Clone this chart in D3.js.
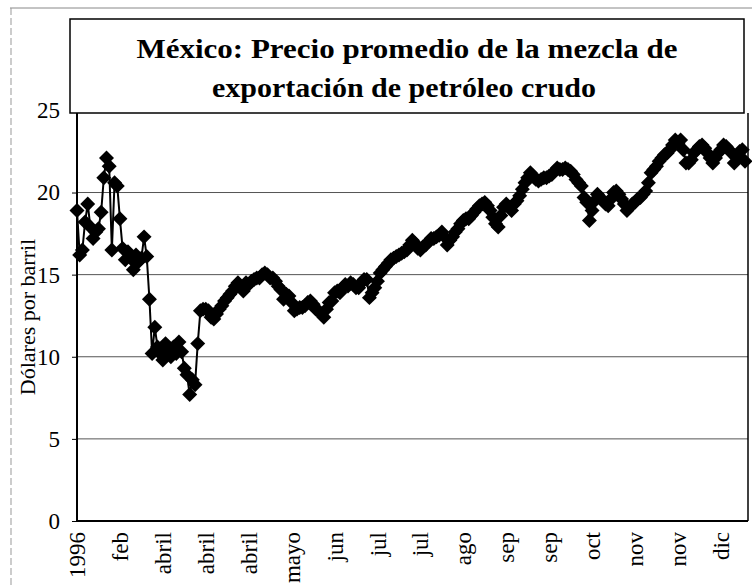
<!DOCTYPE html>
<html lang="es">
<head>
<meta charset="utf-8">
<script src="https://d3js.org/d3.v7.min.js"></script>
<style>
body { margin: 0; background: #fff; }
svg { display: block; font-family: "Liberation Serif", "Times New Roman", serif; }
.grid line { stroke: #555; stroke-width: 1; }
.serie { fill: none; stroke: #000; stroke-width: 2; stroke-linejoin: round; }
</style>
</head>
<body>
<svg width="752" height="588"></svg>
<script>
// precio diario (dolares por barril), 1996
var precios = [
  18.9, 16.2, 16.5, 18.2, 19.3, 17.9, 17.2, 17.6, 17.8, 18.8,
  20.9, 22.1, 21.6, 16.5, 20.6, 20.4, 18.4, 16.6, 15.9, 16.4,
  16.0, 15.3, 16.2, 15.8, 16.0, 17.3, 16.1, 13.5, 10.2, 11.8,
  10.6, 10.2, 9.8, 10.8, 10.4, 10.0, 10.6, 10.2, 10.9, 10.3,
  9.3, 8.9, 7.7, 8.6, 8.3, 10.8, 12.8, 12.9, 12.9, 12.8,
  12.4, 12.3, 12.6, 12.9, 13.1, 13.4, 13.6, 13.8, 14.0, 14.3,
  14.5, 14.3, 14.0, 14.5, 14.4, 14.6, 14.7, 14.8, 14.8, 15.0,
  15.1, 15.0, 14.8, 14.8, 14.6, 14.3, 14.1, 13.5, 13.8, 13.7,
  13.3, 12.8, 12.9, 13.0, 13.0, 13.1, 13.3, 13.4, 13.2, 12.9,
  12.8, 12.6, 12.4, 12.9, 13.3, 13.4, 13.9, 14.0, 13.9, 14.2,
  14.4, 14.3, 14.5, 14.4, 14.2, 14.2, 14.5, 14.7, 14.7, 13.6,
  13.9, 14.2, 14.6, 15.1, 15.3, 15.5, 15.7, 15.9, 16.0, 16.1,
  16.2, 16.3, 16.4, 16.5, 16.8, 17.1, 16.9, 16.6, 16.5, 16.7,
  16.8, 17.0, 17.2, 17.2, 17.3, 17.4, 17.6, 17.3, 16.8, 17.1,
  17.3, 17.6, 17.8, 18.1, 18.3, 18.4, 18.4, 18.6, 18.8, 19.0,
  19.2, 19.3, 19.4, 19.2, 18.9, 18.5, 18.1, 17.9, 18.6, 19.1,
  19.3, 19.1, 18.9, 19.3, 19.5, 19.8, 20.2, 20.6, 20.9, 21.2,
  21.0, 20.8, 20.7, 20.8, 20.9, 20.9, 21.0, 21.1, 21.3, 21.5,
  21.4, 21.4, 21.5, 21.4, 21.3, 21.1, 20.8, 20.6, 20.4, 19.7,
  19.4, 18.3, 18.9, 19.5, 19.9, 19.7, 19.5, 19.3, 19.2, 19.6,
  20.0, 20.1, 19.9, 19.6, 19.3, 18.9, 19.1, 19.3, 19.4, 19.6,
  19.7, 19.9, 20.1, 20.6, 21.2, 21.4, 21.6, 21.9, 22.1, 22.3,
  22.4, 22.6, 22.9, 23.2, 23.0, 23.2, 22.6, 21.8, 21.8, 22.0,
  22.4, 22.6, 22.8, 22.9, 22.7, 22.4, 22.1, 21.8, 22.1, 22.4,
  22.6, 22.9, 22.8, 22.6, 22.4, 21.8, 22.1, 22.5, 22.6, 21.9
];
var etiquetas = ["1996", "feb", "abril", "abril", "abril", "mayo", "jun", "jul",
                 "jul", "ago", "sep", "sep", "oct", "nov", "nov", "dic"];
var cadaN = 16; // una etiqueta cada 16 dias
var ticksY = [0, 5, 10, 15, 20, 25];
var titulo = ["México: Precio promedio de la mezcla de", "exportación de petróleo crudo"];
var tituloY = "Dólares por barril";

// ojo: "top" choca con window.top
var svg = d3.select("svg"),
    izq = 77, der = 748, arriba = 113, abajo = 521;

var x = d3.scaleLinear().domain([0, precios.length - 1]).range([77, 745]);
var y = d3.scaleLinear().domain([0, 25]).range([abajo, 110.4]);

// marco exterior de la pagina (escaneo)
svg.append("line").attr("x1", 10).attr("x2", 752).attr("y1", 8).attr("y2", 8)
    .attr("stroke", "#888").attr("stroke-width", 1);
svg.append("line").attr("x1", 11).attr("x2", 11).attr("y1", 8).attr("y2", 588)
    .attr("stroke", "#999").attr("stroke-width", 1).attr("stroke-dasharray", "7,3");

// lineas de division
svg.append("g").attr("class", "grid")
  .selectAll("line")
  .data(ticksY.filter(function(d) { return d > 0 && d < 25; }))
  .join("line")
    .attr("x1", izq).attr("x2", der)
    .attr("y1", function(d) { return y(d); })
    .attr("y2", function(d) { return y(d); });

// eje y
var ejeY = svg.append("g")
    .attr("transform", "translate(" + izq + ",0)")
    .call(d3.axisLeft(y).tickValues(ticksY).tickSize(5).tickPadding(12));
ejeY.select(".domain").remove();
ejeY.selectAll("text")
    .attr("font-family", "Liberation Serif, serif")
    .attr("font-size", 23)
    .attr("fill", "#000");
ejeY.selectAll("line").attr("stroke", "#000");

// eje x
var ejeX = svg.append("g")
    .attr("transform", "translate(0," + abajo + ")")
    .call(d3.axisBottom(x)
      .tickValues(d3.range(0, precios.length, cadaN))
      .tickFormat(function(d, i) { return etiquetas[i]; })
      .tickSize(0));
ejeX.select(".domain").remove();
ejeX.selectAll("text")
    .attr("font-family", "Liberation Serif, serif")
    .attr("font-size", 23)
    .attr("fill", "#000")
    .attr("transform", "rotate(-90)")
    .attr("text-anchor", "end")
    .attr("x", -11)
    .attr("y", 0)
    .attr("dy", "0.33em");

// marco del area de grafica
svg.append("line").attr("x1", der).attr("x2", der).attr("y1", arriba).attr("y2", abajo)
    .attr("stroke", "#000").attr("stroke-width", 1.5);
svg.append("line").attr("x1", izq).attr("x2", der).attr("y1", abajo).attr("y2", abajo)
    .attr("stroke", "#000").attr("stroke-width", 2);
svg.append("line").attr("x1", izq).attr("x2", izq).attr("y1", arriba).attr("y2", abajo + 1)
    .attr("stroke", "#000").attr("stroke-width", 2);

// serie
var linea = d3.line()
    .x(function(d, i) { return x(i); })
    .y(function(d) { return y(d); });

svg.append("path")
    .datum(precios)
    .attr("class", "serie")
    .attr("d", linea);

svg.append("g")
  .selectAll("path")
  .data(precios)
  .join("path")
    .attr("d", d3.symbol(d3.symbolSquare, 112))
    .attr("fill", "#000")
    .attr("transform", function(d, i) {
      return "translate(" + x(i) + "," + y(d) + ") rotate(45)";
    });

// titulo del eje y
svg.append("text")
    .attr("transform", "translate(35," + ((arriba + abajo) / 2) + ") rotate(-90)")
    .attr("text-anchor", "middle")
    .attr("font-size", 22)
    .text(tituloY);

// cuadro del titulo
svg.append("rect")
    .attr("x", 70).attr("y", 19)
    .attr("width", 674).attr("height", 94)
    .attr("fill", "#fff")
    .attr("stroke", "#000")
    .attr("stroke-width", 1.5);

svg.append("text")
    .attr("x", 407).attr("y", 58)
    .attr("text-anchor", "middle")
    .attr("font-size", 28)
    .attr("font-weight", "bold")
    .attr("textLength", 541)
    .attr("lengthAdjust", "spacingAndGlyphs")
    .text(titulo[0]);

svg.append("text")
    .attr("x", 404).attr("y", 97)
    .attr("text-anchor", "middle")
    .attr("font-size", 28)
    .attr("font-weight", "bold")
    .attr("textLength", 384)
    .attr("lengthAdjust", "spacingAndGlyphs")
    .text(titulo[1]);
</script>
</body>
</html>
